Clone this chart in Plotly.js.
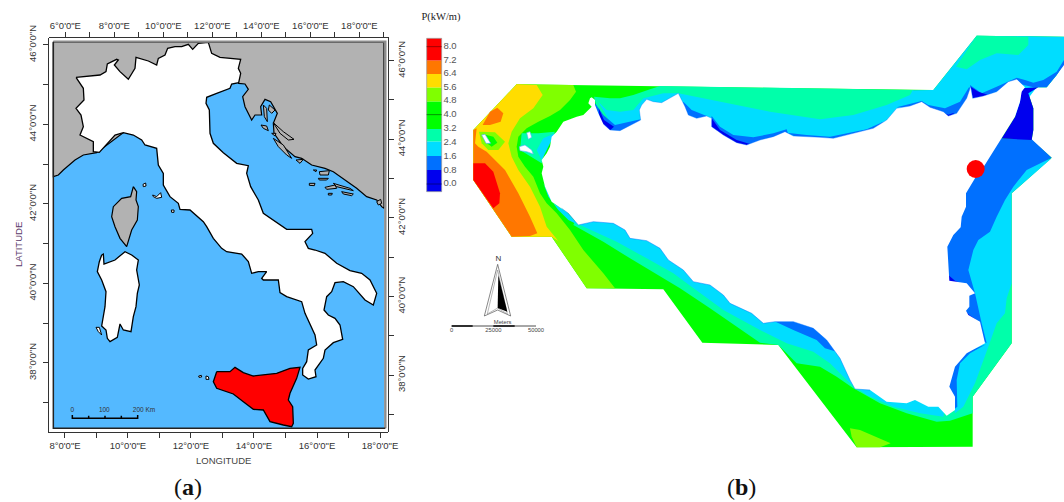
<!DOCTYPE html>
<html><head><meta charset="utf-8">
<script src="https://cdn.plot.ly/plotly-3.0.1.min.js"></script>
<style>html,body{margin:0;padding:0;background:#fff}#g{width:1064px;height:502px}</style>
</head><body><div id="g"></div><script>
// Everything on the pictures is stored on a 3x reference grid (3192 x 1506), piecewise by sheet.
const at=(dx,dy,p)=>p.map(q=>[q[0]+dx,q[1]+dy]);
const a1=p=>p, a2=p=>at(0,750,p), z3=p=>at(1230,0,p), z4=p=>at(1290,510,p), z5=p=>at(1860,90,p), z6=p=>at(2040,450,p), z7=p=>at(1440,300,p);

// ---------- panel (a) -------------
const seaFrame=[[160,127],[1152,127],[1152,1285],[160,1285]];
const foreignLand=[[160,127],[1152,127],[1152,625],[1145,620],[1130,600],[1100,590],[1070,565],[1035,540],[1000,515],[975,505],[935,495],[905,475],[885,470],[850,440],[822,400],[820,370],[832,340],[812,305],[795,298],[782,320],[785,345],[765,345],[755,360],[735,320],[728,290],[745,268],[735,252],[716,250],[700,200],[500,300],[290,458],[250,465],[225,480],[190,510],[175,525],[160,530]];
const italyOutline=[...a1([[228,232],[262,228],[300,225],[318,215],[322,192],[350,178],[355,180],[343,195],[360,215],[385,238],[392,225],[405,205],[408,172],[425,178],[445,183],[470,195],[475,175],[495,165],[503,145],[525,140],[545,140],[565,133],[578,148],[595,130],[625,127],[635,160],[660,172],[722,178],[715,205],[722,220],[716,248],[695,252],[690,265],[650,280],[620,292],[618,310],[628,330],[630,400],[640,430],[670,458],[710,490],[745,497],[740,520],[752,560],[775,600],[790,640],[820,660],[860,688],[935,688],[938,700],[915,725],[925,745]]),
...a2([[945,0],[975,10],[1010,40],[1050,62],[1085,70],[1110,90],[1130,130],[1120,165],[1095,150],[1060,110],[1030,95],[1005,98],[995,125],[980,140],[972,180],[985,195],[1005,205],[1020,225],[1028,268],[1000,278],[975,300],[970,325],[945,360],[948,380],[925,387],[908,375],[908,355],[920,335],[925,300],[950,285],[945,255],[930,225],[915,190],[905,155],[885,148],[860,140],[840,128],[835,90],[790,90],[785,85],[800,65],[775,65],[755,70],[745,35],[725,12],[680,5]]),
...a1([[665,745],[640,715],[620,680],[610,665],[570,630],[540,628],[535,610],[510,590],[490,555],[490,520],[475,495],[470,445],[435,435],[425,420],[400,405],[370,398],[345,405],[322,430],[298,457],[280,455],[280,425],[240,405],[250,380],[243,345],[228,325],[252,300],[250,265]])];
const sardinia=a2([[305,15],[310,12],[312,42],[345,30],[375,5],[395,15],[415,30],[410,60],[418,105],[412,130],[408,170],[400,200],[393,245],[370,240],[360,222],[352,262],[330,275],[322,265],[318,240],[305,228],[315,170],[318,125],[305,90],[292,65],[298,35]]);
const corsica=[[400,560],[410,575],[408,600],[415,620],[412,660],[395,690],[380,740],[360,715],[345,680],[335,650],[340,620],[365,595],[392,590]];
const sicilyRed=a2([[650,365],[690,365],[705,352],[730,368],[760,378],[830,370],[870,355],[900,352],[890,385],[870,430],[865,450],[878,470],[880,520],[875,530],[850,525],[810,515],[790,480],[760,478],[730,455],[700,432],[650,415],[640,395]]);
const whiteIslets=[[[458,585],[470,590],[482,578],[485,592],[470,595],[460,590]],[[429,553],[437,549],[438,558],[430,560]],[[514,630],[522,630],[522,637],[515,637]],...[[[596,378],[604,376],[605,381],[597,382]],[[618,378],[625,380],[627,388],[618,388]],[[288,232],[298,232],[305,255],[295,245]]].map(a2)];
const greyIslets=[[[790,315],[800,325],[802,365],[793,350]],[[808,315],[825,330],[815,340],[805,330]],[[783,375],[800,378],[805,392],[790,385]],[[815,400],[828,400],[825,408]],[[820,368],[850,395],[882,418],[865,420],[840,400]],[[820,415],[850,435],[875,475],[860,465],[835,440]],[[888,480],[910,478],[900,490]],[[940,510],[950,510],[948,515]],[[958,515],[988,512],[985,525],[960,525]],[[928,550],[945,550],[943,557],[928,556]],[[955,535],[985,535],[980,540],[958,540]],[[975,562],[1005,555],[1010,565],[980,568]],[[1000,550],[1050,565],[1060,572],[1010,560]],[[985,580],[997,580],[995,585],[985,585]],[[1025,575],[1060,582],[1055,587],[1030,582]],[[1130,605],[1142,598],[1145,610],[1135,615]]];
const kmBar=a2([[217,495],[217,505],[266,505],[266,497],[266,505],[315,505],[315,497],[315,505],[364,505],[364,497],[364,505],[413,505],[413,495]]);
const frameGrey=[[160,125],[1156,125],[1156,1285]];
const frameDark=[[160,125],[160,1285],[1156,1285]];

const botLon=['8°0\'0"E','','10°0\'0"E','','12°0\'0"E','','14°0\'0"E','','16°0\'0"E','','18°0\'0"E'];
const botVals=[8,9,10,11,12,13,14,15,16,17,18];
const topLon=['6°0\'0"E','','8°0\'0"E','','10°0\'0"E','','12°0\'0"E','','14°0\'0"E','','16°0\'0"E','','18°0\'0"E',''];
const topVals=[6,7,8,9,10,11,12,13,14,15,16,17,18,19];
const latVals=[46,45,44,43,42,41,40,39,38,37];
const latText=['46°0\'0"N','','44°0\'0"N','','42°0\'0"N','','40°0\'0"N','','38°0\'0"N',''];

// ---------- panel (b) -------------
const legendEdges=[115,182,222,263,305,387,425,468,510,575];
const legendColors=['#FF0000','#FF7700','#FFDD00','#80FF00','#00FF00','#00FFAA','#00DDFF','#0070FF','#0000EE'];
const legendLabels=['8.0','7.2','6.4','5.6','4.8','4.0','3.2','2.4','1.6','0.8','0.0'];
const legendLabelY=[140,183,222,262,303,344,387,427,469,512,552];
const domainOutline=[[1550,253],[1860,257],[2800,270],[2930,107],[3192,110],[3192,190],[3170,225],[3140,262],[3110,262],[3085,280],[3100,325],[3100,390],[3095,420],[3155,473],[3035,580],[3035,1030],[2918,1190],[2918,1340],[2570,1342],[2335,1035],[2107,1028],[1990,868],[1760,865],[1655,710],[1535,710],[1420,540],[1420,390]];
const coastWest=[...z3([[540,295],[535,310],[545,320],[520,345],[500,350],[460,365],[440,395],[425,410],[420,440],[410,460],[395,480],[400,500],[395,520],[400,540]]),...z4([[345,50],[365,95],[395,115]])];
const coastSouth=[...z4([[395,115],[415,130],[445,165],[490,155],[550,160],[585,180],[600,205],[650,212],[690,235],[715,270],[760,300],[790,335],[840,345],[880,375]]),...z6([[150,460],[215,490],[250,520],[285,515],[340,515],[400,535],[440,570],[480,625],[510,690],[525,717],[570,720],[620,755],[680,760],[705,750],[745,770],[775,770],[800,797],[825,780],[825,740],[808,710],[825,650],[860,610],[915,580],[905,540],[900,515],[865,495],[858,482],[868,470],[868,437],[885,430],[860,400],[808,392],[802,290],[820,255],[842,232],[845,200],[858,170],[858,130],[885,85]])];
const coastNorth=[...z5([[1085,420],[1145,325],[1185,260],[1200,215],[1205,185],[1215,172],[1190,148],[1165,155],[1130,185],[1090,198],[1058,205],[1052,170],[1040,205],[1010,250],[985,258],[970,245],[930,232],[905,215],[870,228],[830,235],[800,270],[760,295],[720,305],[690,312],[640,325],[600,322],[550,320],[520,318],[495,305],[460,320],[420,330],[380,345],[350,338],[310,315],[275,290],[275,265],[260,258],[230,265],[205,255],[195,230],[175,190],[150,205],[125,218],[100,215],[80,208],[65,225],[58,240],[62,270],[35,285],[0,302]]),...z3([[600,390],[580,372],[565,340],[555,315],[555,300],[545,292]])];
const limeWest=[...z3([[320,253],[490,255],[498,275],[480,300],[450,330],[420,348],[385,365],[350,385],[325,410],[320,440],[325,470],[345,500],[370,530]]),...z4([[330,70],[350,100],[380,130],[420,180],[460,240],[520,310],[555,355],[470,355],[365,200],[245,200],[130,30]]),[1420,390]];
const yellowWest=[...z3([[320,253],[380,255],[398,285],[370,325],[330,355],[305,395],[295,430],[305,470],[325,510]]),...z4([[300,50],[330,110],[350,170],[385,213],[365,200],[245,200],[130,30]]),[1420,390]];
const orangeWest=[[1420,390],...z3([[200,385],[195,430],[205,440],[230,455],[260,485],[285,510]]),...z4([[265,70],[300,140],[322,190],[300,198],[245,200],[130,30]])];
const orangePatch=z3([[218,375],[240,335],[262,323],[280,340],[272,365],[240,375]]);
const redWest=[...z3([[190,490],[225,490],[250,515]]),...z4([[210,70],[208,100],[190,115],[130,30]]),[1420,490]];
const limeRing=z3([[207,395],[255,397],[285,425],[265,450],[235,450],[215,430]]);
const greenRing=z3([[218,402],[250,410],[262,428],[245,440],[225,425]]);
const islesWhite=[z3([[215,405],[225,403],[242,430],[228,430]]),z3([[350,398],[360,395],[365,412],[355,418]]),z3([[328,440],[345,435],[365,450],[370,462],[350,455],[330,452]])];
const tealIsles=z7([[125,100],[175,100],[225,95],[195,150],[185,190],[160,175],[120,150]]);
const cyanIsles=z7([[190,115],[225,100],[200,150],[185,180],[170,150]]);
const tealNorth=[...z3([[552,290],[600,295]]),...z5([[0,205],[40,195],[90,178],[120,168],[880,180],[880,500],[0,500]])];
const cyanNorth=[...z3([[565,305],[590,330]]),...z5([[0,245],[40,240],[70,205],[130,190],[175,190],[300,215],[450,245],[600,268],[700,255],[800,225],[870,195],[878,181],[940,180],[1070,17],[1332,20],[1332,100],[1310,135],[1280,172],[1250,172],[1000,500],[100,500]])];
const tealNE=z5([[1070,17],[1225,20],[1225,45],[1195,75],[1130,70],[1080,90],[1040,118],[1008,110]]);
const blueNorth=[[...z3([[555,310],[580,345],[615,375],[660,365]]),...z5([[30,275],[62,268],[62,300],[0,340],[-100,340]])],
 z5([[190,215],[215,240],[260,258],[275,275],[215,275],[185,250]]),
 z5([[275,258],[300,290],[340,315],[400,322],[460,310],[500,298],[510,330],[380,360],[340,350],[270,300]]),
 z5([[500,308],[560,315],[630,320],[690,308],[740,298],[790,275],[800,290],[720,320],[640,335],[550,330]]),
 z5([[830,232],[905,213],[925,225],[975,235],[1020,215],[1048,170],[1060,215],[1010,270],[985,272],[905,235]]),
 z5([[1050,165],[1085,190],[1130,170],[1190,143],[1215,150],[1240,158],[1270,150],[1310,125],[1332,90],[1332,105],[1310,135],[1280,172],[1240,172],[1190,160],[1058,215]])];
const darkNorth=[z3([[566,325],[582,360],[612,380],[595,395],[570,365]]),z5([[275,265],[300,300],[350,330],[390,342],[360,352],[300,325],[270,290]]),z5([[915,225],[960,245],[985,254],[1003,248],[985,268],[950,250]]),z5([[1052,170],[1075,185],[1105,195],[1060,215]])];
const darkStrait=z5([[1205,175],[1255,172],[1225,190],[1240,235],[1240,300],[1235,330],[1145,325],[1185,260],[1200,215]]);
const landwardPoint=[[1800,500]];
const tealSouth=[...z4([[430,165],[520,215],[600,265],[690,320]]),...z6([[0,415],[90,475],[240,578],[295,585],[350,640],[420,650],[470,680],[520,715],[600,760],[680,790],[770,815],[810,812],[878,790],[878,740],[995,580],[995,400],[800,500],[400,400]]),...landwardPoint];
const cyanSouth=[...z4([[450,165],[560,215],[650,265],[730,310]]),...z6([[0,385],[60,430],[130,480],[240,540],[320,580],[400,605],[450,640],[510,700],[560,735],[640,770],[720,790],[790,800],[800,750],[700,650],[400,450]]),...landwardPoint];
const cyanEast=z6([[1115,25],[995,130],[995,400],[980,445],[975,490],[950,520],[925,590],[885,700],[850,770],[825,790],[800,650],[860,400],[880,200],[1000,60]]);
const blueEast=[[...z5([[1145,325],[1235,328],[1295,383]]),...z6([[1040,60],[1000,110],[975,150],[950,200],[930,245],[895,270],[880,300],[865,360],[885,430],[905,520],[920,580],[800,500],[790,300]]),[2700,400]],
 z6([[280,512],[340,512],[400,532],[440,568],[485,630],[470,605],[435,595],[410,570],[340,540],[310,525]]),
 z6([[918,583],[870,610],[840,640],[830,690],[832,770],[820,780],[800,710],[820,650],[860,605]])];
const darkEast=[z6([[805,375],[825,392],[855,405],[830,400],[805,395]]),z6([[853,480],[868,495],[890,510],[865,500]])];
const cyanStripWest=z4([[340,40],[370,100],[410,125],[445,165],[415,150],[385,120],[355,80]]);
const limeSouthPatch=z6([[510,835],[540,840],[632,880],[600,892],[530,892],[515,860]]);
const redPoint=[2927,507];
const northArrowOutline=z4([[203,283],[163,438],[203,420],[242,438],[203,283]]);
const northArrowInner=z4([[203,300],[172,432],[203,414],[232,432],[203,300]]);
const northArrowBlack=z4([[205,315],[232,425],[203,414]]);
const scaleLine=z4([[65,468],[318,468]]);
const scaleBlocks=[z4([[65,468],[128,468]]),z4([[190,468],[254,468]])];
const labelsB={x:[1355,1480,1608,1508],y:[993,993,993,969],t:['0','25000','50000','Meters']};
const legendBox=[[1280,115],[1325,115],[1325,575],[1280,575],[1280,115]];

function poly(p,fill,lw,lc){const c=p.concat([p[0]]);return {x:c.map(q=>q[0]),y:c.map(q=>q[1]),mode:'lines',fill:'toself',fillcolor:fill,line:{width:lw||0,color:lc||fill},hoverinfo:'skip',type:'scatter',xaxis:'x',yaxis:'y'};}
function line(p,lw,lc){return {x:p.map(q=>q[0]),y:p.map(q=>q[1]),mode:'lines',line:{width:lw,color:lc},hoverinfo:'skip',type:'scatter',xaxis:'x',yaxis:'y'};}
function txt(x,y,t,size,color,fam){return {x:[].concat(x),y:[].concat(y),text:[].concat(t),mode:'text',textposition:'middle center',textfont:{size:size,color:color,family:fam||'Liberation Sans'},hoverinfo:'skip',type:'scatter',xaxis:'x',yaxis:'y'};}

const SEA='#54B9FF',GREY='#B2B2B2',K='#000';
const land=[...coastWest,...coastSouth,...coastNorth];
const traces=[
 poly(seaFrame,SEA),
 poly(foreignLand,GREY,1.2,K),
 poly(italyOutline,'#fff',1.3,K),
 poly(sardinia,'#fff',1.3,K),
 poly(corsica,GREY,1.2,K),
 poly(sicilyRed,'#FF0000',1.3,K),
 ...whiteIslets.map(p=>poly(p,'#fff',1,K)),
 ...greyIslets.map(p=>poly(p,GREY,1,K)),
 line(frameGrey,2.4,'#8c8c8c'),
 line(frameDark,1.5,'#222'),
 line(kmBar,1.5,K),
 txt([217,313,432],[1230,1230,1230],['0','100','200 Km'],6.5,'#333'),
 // panel (b) field
 poly(domainOutline,'#00FF00'),
 poly(limeWest,'#80FF00'),
 poly(yellowWest,'#FFDD00'),
 poly(orangeWest,'#FF7700'),
 poly(orangePatch,'#FF7700'),
 poly(redWest,'#FF0000'),
 poly(limeRing,'#80FF00'),
 poly(greenRing,'#00FF00'),
 poly(tealIsles,'#00FFAA'),
 poly(cyanIsles,'#00DDFF'),
 poly(tealNorth,'#00FFAA'),
 poly(cyanNorth,'#00DDFF'),
 poly(tealNE,'#00FFAA'),
 poly(tealSouth,'#00FFAA'),
 poly(limeSouthPatch,'#80FF00'),
 poly(cyanSouth,'#00DDFF'),
 poly(cyanEast,'#00DDFF'),
 poly(cyanStripWest,'#00DDFF'),
 ...blueNorth.map(p=>poly(p,'#0070FF')),
 ...blueEast.map(p=>poly(p,'#0070FF')),
 poly(darkStrait,'#0000EE'),
 ...darkNorth.map(p=>poly(p,'#0000EE')),
 ...darkEast.map(p=>poly(p,'#0000EE')),
 poly(land,'#fff'),
 line(coastSouth.slice(0,25),.7,'rgba(0,112,255,.65)'),
 line(coastNorth.slice(6,52),.7,'rgba(0,112,255,.5)'),
 ...islesWhite.map(p=>poly(p,'#fff',.6,'#55aaff')),
 {x:[redPoint[0]],y:[redPoint[1]],mode:'markers',marker:{size:18,color:'#FF0000'},hoverinfo:'skip',type:'scatter',xaxis:'x',yaxis:'y'},
 // legend blocks
 {type:'bar',x:legendColors.map(()=>1302.5),width:legendColors.map(()=>45),base:legendEdges.slice(0,-1),y:legendEdges.slice(1).map((v,i)=>v-legendEdges[i]),marker:{color:legendColors,line:{width:0}},hoverinfo:'skip',xaxis:'x',yaxis:'y'},
 line(legendBox,.7,'#999'),
 line([[1280,140],[1325,140]],.7,'#700'),
 line([[1280,344],[1325,344]],.7,'#060'),
 line([[1280,552],[1325,552]],.7,'#006'),
 txt(legendLabelY.map(()=>1350),legendLabelY,legendLabels,9.5,'#555'),
 txt([1323],[52],['P(kW/m)'],10.5,'#222','Liberation Serif'),
 // north arrow + scale
 poly(northArrowOutline,'#fff',.7,'#555'),
 poly(northArrowInner,'#fff',.6,'#888'),
 poly(northArrowBlack,'#000'),
 txt([1495],[778],['N'],8,'#333'),
 line(scaleLine,.8,'#222'),
 ...scaleBlocks.map(p=>line(p,1.6,'#111')),
 txt(labelsB.x,labelsB.y,labelsB.t,5.8,'#444'),
 // axis carriers
 {x:[],y:[],type:'scatter',xaxis:'x2',yaxis:'y2'},
 {x:[],y:[],type:'scatter',xaxis:'x3',yaxis:'y3'}
];
const FW=1064,FH=502,dx=[48.7/FW,388/FW],dy=[(FH-432)/FH,(FH-37.7)/FH];
const tick={ticks:'outside',ticklen:5,tickwidth:1,tickcolor:'#333',showline:true,linecolor:'#333',linewidth:1,showgrid:false,zeroline:false,tickfont:{family:'Liberation Sans',size:9.5,color:'#333'},tickmode:'array',fixedrange:true};
const note=(x,y,text,size,color,fam,angle)=>({xref:'paper',yref:'paper',x:x/FW,y:1-y/FH,xanchor:'center',yanchor:'middle',text,showarrow:false,textangle:angle||0,font:{family:fam,size,color}});
const layout={width:FW,height:FH,margin:{l:0,r:0,t:0,b:0,pad:0},showlegend:false,paper_bgcolor:'#fff',plot_bgcolor:'rgba(0,0,0,0)',barmode:'overlay',
 xaxis:{domain:[0,1],range:[0,3192],visible:false,fixedrange:true},
 yaxis:{domain:[0,1],range:[1506,0],visible:false,fixedrange:true},
 xaxis2:{...tick,domain:dx,anchor:'y2',side:'bottom',range:[7.483,18.254],tickvals:botVals,ticktext:botLon,tickangle:0,ticklabelstandoff:0},
 yaxis2:{...tick,domain:dy,anchor:'x2',side:'left',range:[36.26,46.18],tickvals:latVals,ticktext:latText,tickangle:-90,ticklabelstandoff:3},
 xaxis3:{...tick,domain:dx,anchor:'y3',side:'top',range:[5.32,19.17],tickvals:topVals,ticktext:topLon,tickangle:0,ticklabelstandoff:-1},
 yaxis3:{...tick,domain:dy,anchor:'x3',side:'right',range:[36.55,46.585],tickvals:latVals,ticktext:latText,tickangle:-90},
 annotations:[
  note(223.7,460,'LONGITUDE',9.5,'#444','Liberation Sans'),
  note(18,245,'LATITUDE',9.5,'#5a3a6a','Liberation Sans',-90),
  note(188,487,'(<b>a</b>)',24,'#111','Liberation Serif'),
  note(741,487,'(<b>b</b>)',24,'#111','Liberation Serif')
 ]};
Plotly.newPlot('g',traces,layout,{displayModeBar:false,staticPlot:true});
</script></body></html>
